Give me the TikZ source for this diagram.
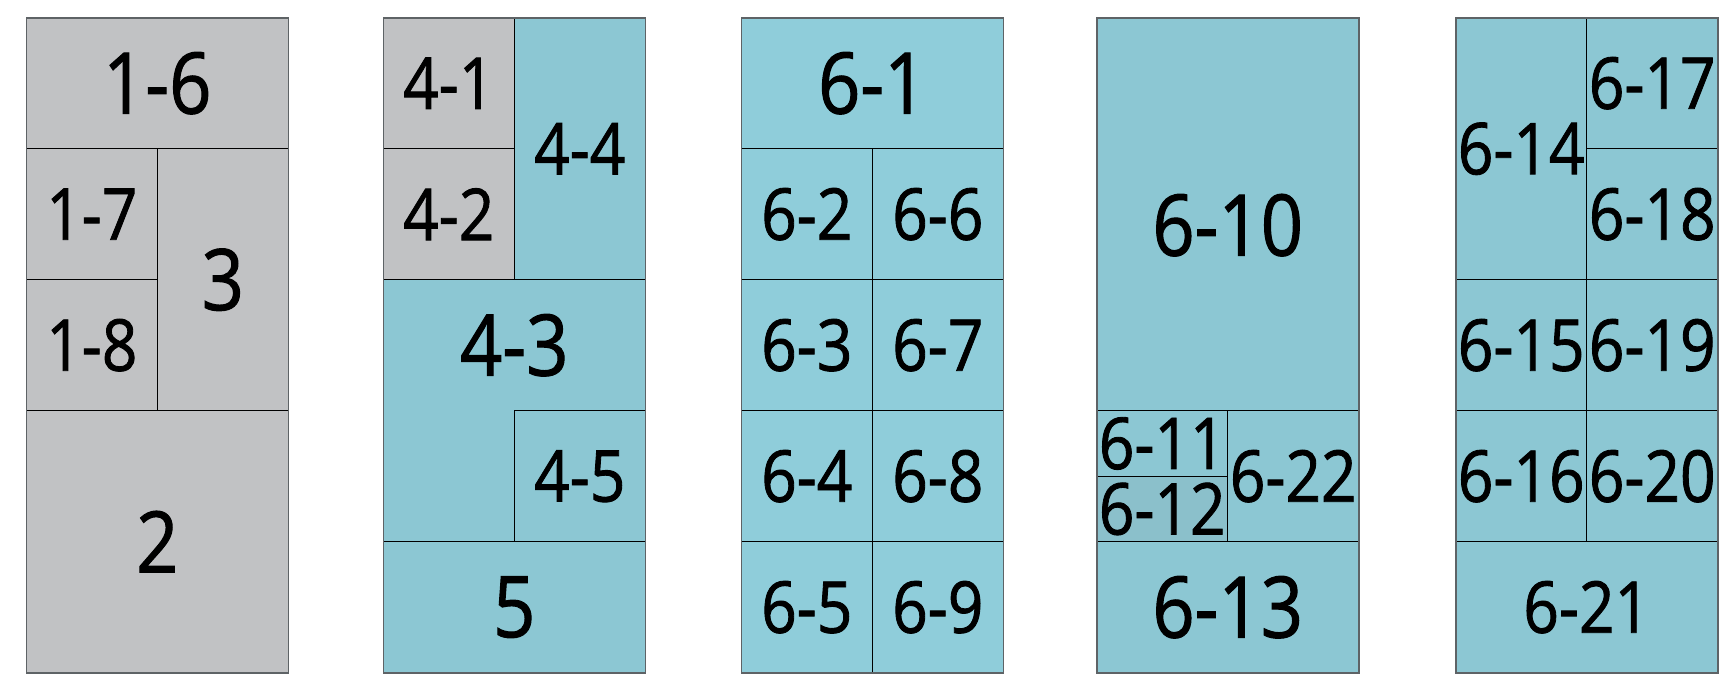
\documentclass[tikz,border=0pt]{standalone}
\usepackage{fontspec}
\setmainfont[FakeStretch=0.87,FakeBold=1.2]{Open Sans}
\usetikzlibrary{calc}
\definecolor{stone}{HTML}{C1C2C4}
\definecolor{teal}{HTML}{8CC7D3}
\definecolor{tealLight}{HTML}{8FCDDA}
\definecolor{tealDark}{HTML}{8BC0CB}
\definecolor{edge}{HTML}{5E6366}
\tikzset{
  cellbox/.style={draw=black, line width=1.1pt, anchor=north west, inner sep=0pt,
    outer sep=0pt, align=center, text=black},
  big/.style={font=\fontsize{85}{85}\selectfont},
  small/.style={font=\fontsize{71.5}{71.5}\selectfont},
  grey/.style={cellbox, fill=stone},
  aqua/.style={cellbox, fill=teal},
  aquaLight/.style={cellbox, fill=tealLight},
  aquaDark/.style={cellbox, fill=tealDark},
  frame/.style={draw=edge, line width=1.6pt}
}
\newcommand{\gu}{131pt}
% name, panel left, column, row, width, height, style, text
\newcommand{\cell}[8]{%
  \node[#7, minimum width=#5*\gu, minimum height=#6*\gu] (#1) at ({#2+#3*131},{17.7+#4*131}) {#8};
}

\begin{document}
\begin{tikzpicture}[x=1pt,y=-1pt]
  \useasboundingbox[fill=white] (0,0) rectangle (1721,680);

  % Panel 1: grey blocks.
  \cell{c16}{26.3}{0}{0}{2}{1}{grey, big}{1-6}
  \cell{c17}{26.3}{0}{1}{1}{1}{grey, small}{1-7}
  \cell{c18}{26.3}{0}{2}{1}{1}{grey, small}{1-8}
  \cell{c3}{26.3}{1}{1}{1}{2}{grey, big}{3}
  \cell{c2}{26.3}{0}{3}{2}{2}{grey, big}{2}
  \draw[frame] (c16.north west) rectangle (c2.south east);

  % Panel 2.
  \cell{c41}{383.3}{0}{0}{1}{1}{grey, small}{4-1}
  \cell{c42}{383.3}{0}{1}{1}{1}{grey, small}{4-2}
  \cell{c44}{383.3}{1}{0}{1}{2}{aqua, small}{4-4}
  \cell{c43}{383.3}{0}{2}{2}{2}{aqua}{}
  \node[big] (t43) at ($(c43.north)+(0,65.5)$) {4-3};
  \cell{c45}{383.3}{1}{3}{1}{1}{aqua, small}{4-5}
  \cell{c5}{383.3}{0}{4}{2}{1}{aqua, big}{5}
  \draw[frame] (c41.north west) rectangle (c5.south east);

  % Panel 3: two columns of small blocks.
  \cell{c61}{741.3}{0}{0}{2}{1}{aquaLight, big}{6-1}
  \foreach \r [count=\n from 2] in {1,2,3,4} {
    \cell{c6\n}{741.3}{0}{\r}{1}{1}{aquaLight, small}{6-\n}
  }
  \foreach \r [count=\n from 6] in {1,2,3,4} {
    \cell{c6\n}{741.3}{1}{\r}{1}{1}{aquaLight, small}{6-\n}
  }
  \draw[frame] (c61.north west) rectangle (c69.south east);

  % Panel 4.
  \cell{c610}{1096.7}{0}{0}{2}{3}{aqua}{}
  \node[big] (t610) at ($(c610.center)+(0,11)$) {6-10};
  \cell{c611}{1096.7}{0}{3}{1}{0.5}{aqua, small}{6-11}
  \cell{c612}{1096.7}{0}{3.5}{1}{0.5}{aquaDark, small}{6-12}
  \cell{c622}{1096.7}{1}{3}{1}{1}{aqua, small}{6-22}
  \cell{c613}{1096.7}{0}{4}{2}{1}{aqua, big}{6-13}
  \draw[frame] (c610.north west) rectangle (c613.south east);

  % Panel 5.
  \cell{c614}{1455.7}{0}{0}{1}{2}{aqua, small}{6-14}
  \cell{c617}{1455.7}{1}{0}{1}{1}{aqua, small}{6-17}
  \cell{c618}{1455.7}{1}{1}{1}{1}{aqua, small}{6-18}
  \cell{c615}{1455.7}{0}{2}{1}{1}{aqua, small}{6-15}
  \cell{c616}{1455.7}{0}{3}{1}{1}{aqua, small}{6-16}
  \cell{c619}{1455.7}{1}{2}{1}{1}{aqua, small}{6-19}
  \cell{c620}{1455.7}{1}{3}{1}{1}{aqua, small}{6-20}
  \cell{c621}{1455.7}{0}{4}{2}{1}{aqua, small}{6-21}
  \draw[frame] (c614.north west) rectangle (c621.south east);
\end{tikzpicture}
\end{document}
